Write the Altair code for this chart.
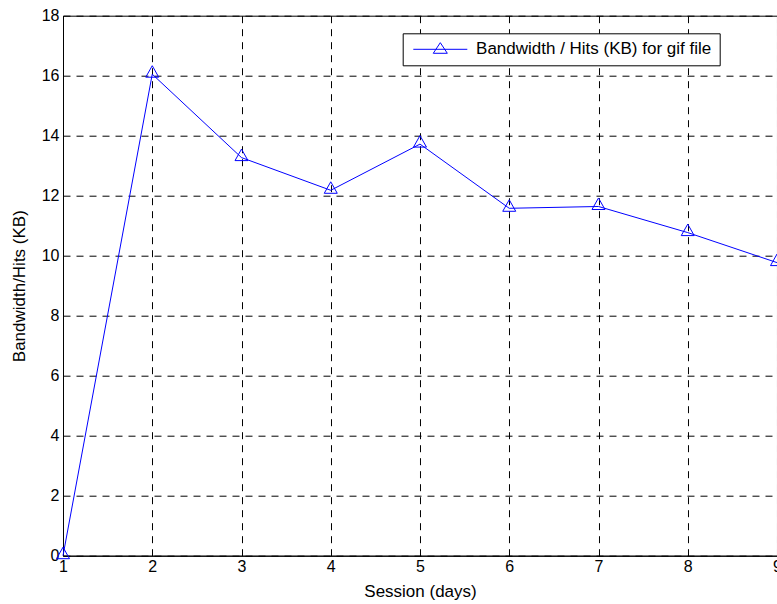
import altair as alt
import pandas as pd

# ---- data ----
session_days = [1, 2, 3, 4, 5, 6, 7, 8, 9]
bandwidth_per_hit_kb = [0.0, 16.05, 13.27, 12.18, 13.72, 11.58, 11.64, 10.77, 9.77]
series_name = "Bandwidth / Hits (KB) for gif file"
x_ticks = [1, 2, 3, 4, 5, 6, 7, 8, 9]
y_ticks = [0, 2, 4, 6, 8, 10, 12, 14, 16, 18]

df = pd.DataFrame({
    "session": session_days,
    "value": bandwidth_per_hit_kb,
    "series": [series_name] * len(session_days),
})

FONT = "Liberation Sans"
BLUE = "#0000ff"
TRI = "M0,-0.85L0.65,0.3L-0.65,0.3Z"
LEG_SYM = "M-1,0L1,0M0,-0.245L0.26,0.148L-0.26,0.148Z"

x_enc = alt.X(
    "session:Q",
    scale=alt.Scale(domain=[1, 9], nice=False, zero=False),
    axis=alt.Axis(values=x_ticks, title="Session (days)", format="d",
                  labelPadding=3, titlePadding=9, labelFlush=False),
)
y_enc = alt.Y(
    "value:Q",
    scale=alt.Scale(domain=[0, 18], nice=False),
    axis=alt.Axis(values=y_ticks, title="Bandwidth/Hits (KB)", format="d",
                  labelPadding=4, titlePadding=13, labelFlush=False),
)
color_enc = alt.Color(
    "series:N",
    scale=alt.Scale(domain=[series_name], range=[BLUE]),
    legend=alt.Legend(title=None),
)

line = alt.Chart(df).mark_line(strokeWidth=1).encode(
    x=x_enc, y=y_enc, color=color_enc
)
points = alt.Chart(df).mark_point(
    shape=TRI, size=400, filled=False, strokeWidth=1, opacity=1
).encode(
    x="session:Q", y="value:Q",
    color=alt.Color("series:N", scale=alt.Scale(domain=[series_name], range=[BLUE]), legend=None),
)

chart = (
    alt.layer(line, points)
    .properties(
        width=714, height=540,
        autosize=alt.AutoSizeParams(type="none"),
        padding={"left": 63, "top": 15.7, "right": 0, "bottom": 48},
        background="white",
    )
    .configure_view(stroke="black", strokeWidth=1)
    .configure_axis(
        labelFont=FONT, titleFont=FONT,
        labelFontSize=16, titleFontSize=17,
        labelColor="black", titleColor="black",
        titleFontWeight="normal",
        domainColor="black", domainWidth=1,
        ticks=False, tickSize=0,
        grid=True, gridColor="black", gridDash=[7, 6], gridWidth=1, gridOpacity=1,
    )
    .configure_legend(
        orient="none", legendX=339.7, legendY=17.6,
        strokeColor="black", fillColor="white", padding=8,
        symbolType=LEG_SYM, symbolSize=2916, symbolStrokeWidth=1,
        symbolFillColor="transparent",
        symbolOffset=2.1, labelOffset=8.3, clipHeight=16,
        labelFont=FONT, labelFontSize=17, labelColor="black", labelLimit=0,
    )
)

chart.save("out.html", embed_options={"renderer": "svg", "actions": False})
